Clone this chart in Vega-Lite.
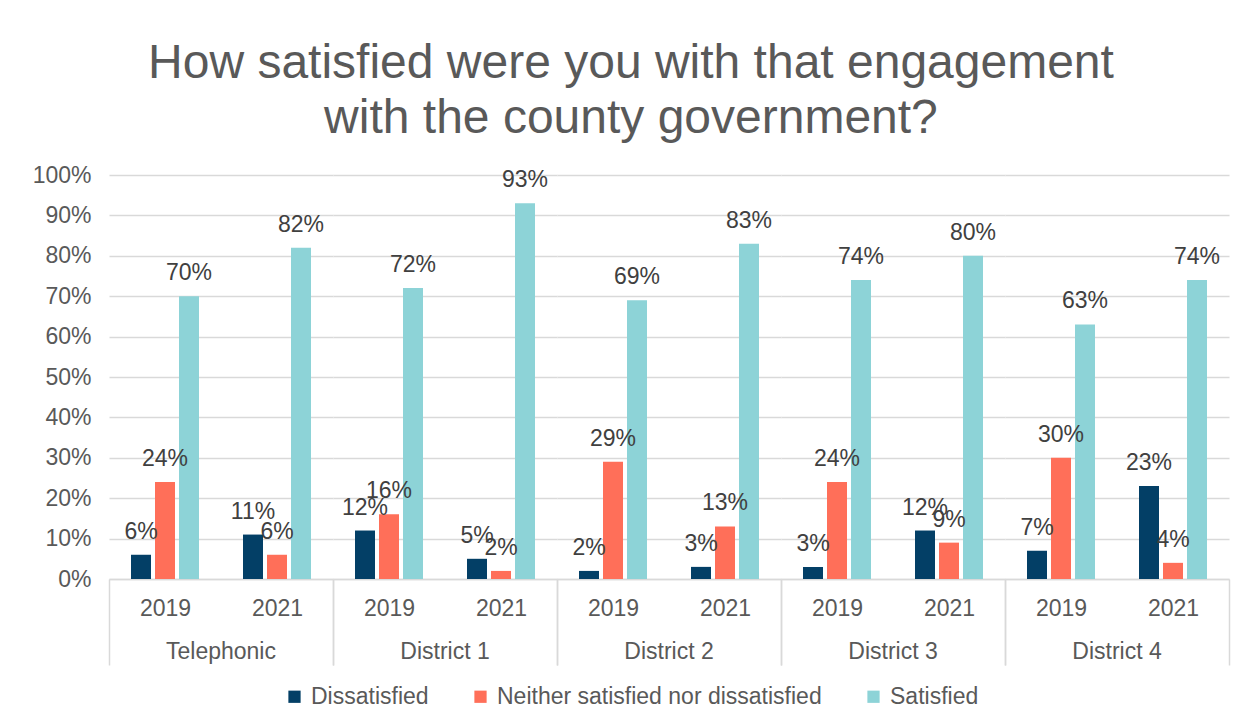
{
  "$schema": "https://vega.github.io/schema/vega-lite/v6.json",
  "background": "white",
  "padding": {"left": 32, "top": 40, "right": 12, "bottom": 5},
  "title": {
    "text": ["How satisfied were you with that engagement", "with the county government?"],
    "fontSize": 48, "font": "Liberation Sans", "fontWeight": "normal", "color": "#595959",
    "lineHeight": 55, "anchor": "middle", "frame": "bounds", "offset": 21
  },
  "data": {"values": [
    {"group": "Telephonic", "year": "2019", "response": "Dissatisfied", "value": 0.06},
    {"group": "Telephonic", "year": "2019", "response": "Neither satisfied nor dissatisfied", "value": 0.24},
    {"group": "Telephonic", "year": "2019", "response": "Satisfied", "value": 0.70},
    {"group": "Telephonic", "year": "2021", "response": "Dissatisfied", "value": 0.11},
    {"group": "Telephonic", "year": "2021", "response": "Neither satisfied nor dissatisfied", "value": 0.06},
    {"group": "Telephonic", "year": "2021", "response": "Satisfied", "value": 0.82},
    {"group": "District 1", "year": "2019", "response": "Dissatisfied", "value": 0.12},
    {"group": "District 1", "year": "2019", "response": "Neither satisfied nor dissatisfied", "value": 0.16},
    {"group": "District 1", "year": "2019", "response": "Satisfied", "value": 0.72},
    {"group": "District 1", "year": "2021", "response": "Dissatisfied", "value": 0.05},
    {"group": "District 1", "year": "2021", "response": "Neither satisfied nor dissatisfied", "value": 0.02},
    {"group": "District 1", "year": "2021", "response": "Satisfied", "value": 0.93},
    {"group": "District 2", "year": "2019", "response": "Dissatisfied", "value": 0.02},
    {"group": "District 2", "year": "2019", "response": "Neither satisfied nor dissatisfied", "value": 0.29},
    {"group": "District 2", "year": "2019", "response": "Satisfied", "value": 0.69},
    {"group": "District 2", "year": "2021", "response": "Dissatisfied", "value": 0.03},
    {"group": "District 2", "year": "2021", "response": "Neither satisfied nor dissatisfied", "value": 0.13},
    {"group": "District 2", "year": "2021", "response": "Satisfied", "value": 0.83},
    {"group": "District 3", "year": "2019", "response": "Dissatisfied", "value": 0.03},
    {"group": "District 3", "year": "2019", "response": "Neither satisfied nor dissatisfied", "value": 0.24},
    {"group": "District 3", "year": "2019", "response": "Satisfied", "value": 0.74},
    {"group": "District 3", "year": "2021", "response": "Dissatisfied", "value": 0.12},
    {"group": "District 3", "year": "2021", "response": "Neither satisfied nor dissatisfied", "value": 0.09},
    {"group": "District 3", "year": "2021", "response": "Satisfied", "value": 0.80},
    {"group": "District 4", "year": "2019", "response": "Dissatisfied", "value": 0.07},
    {"group": "District 4", "year": "2019", "response": "Neither satisfied nor dissatisfied", "value": 0.30},
    {"group": "District 4", "year": "2019", "response": "Satisfied", "value": 0.63},
    {"group": "District 4", "year": "2021", "response": "Dissatisfied", "value": 0.23},
    {"group": "District 4", "year": "2021", "response": "Neither satisfied nor dissatisfied", "value": 0.04},
    {"group": "District 4", "year": "2021", "response": "Satisfied", "value": 0.74}
  ]},
  "facet": {
    "column": {
      "field": "group", "type": "nominal",
      "sort": ["Telephonic", "District 1", "District 2", "District 3", "District 4"],
      "title": null,
      "header": {"orient": "bottom", "labelFontSize": 23, "labelColor": "#595959", "labelFont": "Liberation Sans", "labelPadding": -25}
    }
  },
  "spacing": 0,
  "spec": {
    "width": 224,
    "height": 404,
    "encoding": {
      "x": {
        "field": "year", "type": "nominal", "title": null,
        "scale": {"paddingInner": 0, "paddingOuter": 0},
        "axis": {
          "labelFontSize": 23, "labelColor": "#595959", "labelFont": "Liberation Sans", "labelAngle": 0,
          "tickBand": "extent", "tickSize": 86, "tickColor": "#d9d9d9", "tickWidth": 1.5,
          "tickOpacity": {"condition": {"test": "datum.value === '2019'", "value": 0}, "value": 1},
          "domainColor": "#d9d9d9", "domainWidth": 1.5, "labelPadding": -68
        }
      },
      "xOffset": {
        "field": "response", "type": "nominal",
        "sort": ["Dissatisfied", "Neither satisfied nor dissatisfied", "Satisfied"],
        "scale": {"paddingInner": 0.1667, "paddingOuter": 0.9167}
      },
      "y": {
        "field": "value", "type": "quantitative", "title": null,
        "scale": {"domain": [0, 1]},
        "axis": {
          "values": [0, 0.1, 0.2, 0.3, 0.4, 0.5, 0.6, 0.7, 0.8, 0.9, 1],
          "format": ".0%", "labelFontSize": 23, "labelColor": "#595959", "labelFont": "Liberation Sans",
          "ticks": false, "domain": false, "labelPadding": 18,
          "gridColor": "#d9d9d9", "gridWidth": 1.5
        }
      }
    },
    "layer": [
      {
        "mark": {"type": "bar"},
        "encoding": {
          "color": {
            "field": "response", "type": "nominal",
            "scale": {"domain": ["Dissatisfied", "Neither satisfied nor dissatisfied", "Satisfied"], "range": ["#033f66", "#ff6f59", "#8dd3d7"]},
            "legend": {
              "orient": "bottom", "direction": "horizontal", "title": null,
              "symbolType": "square", "symbolSize": 150, "symbolStrokeWidth": 0,
              "labelFontSize": 23, "labelColor": "#595959", "labelFont": "Liberation Sans", "labelLimit": 600,
              "columnPadding": 40, "labelOffset": 5, "offset": 19
            }
          }
        }
      },
      {
        "mark": {"type": "text", "baseline": "alphabetic", "dy": -16, "fontSize": 23, "font": "Liberation Sans", "color": "#404040"},
        "encoding": {
          "text": {"field": "value", "type": "quantitative", "format": ".0%"}
        }
      }
    ]
  },
  "config": {
    "view": {"stroke": null},
    "legend": {"layout": {"bottom": {"anchor": "middle"}}}
  }
}
